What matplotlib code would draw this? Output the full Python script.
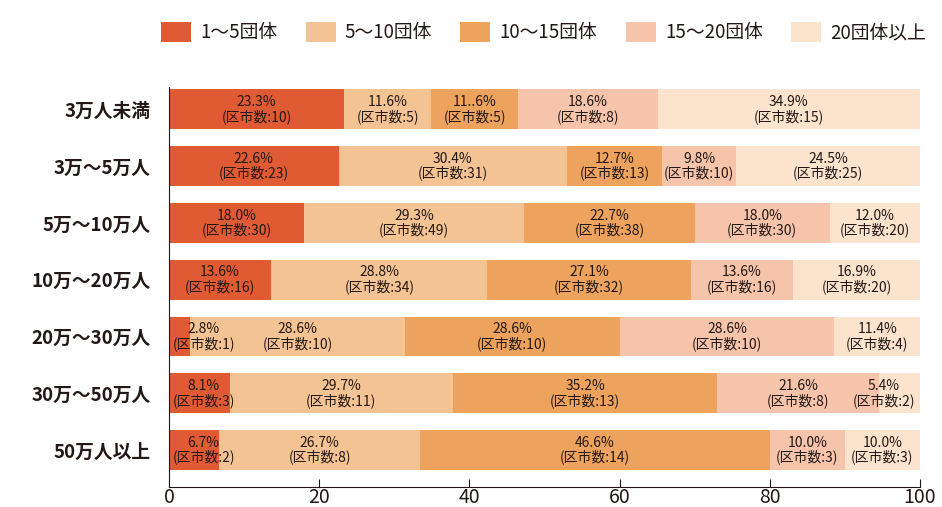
import matplotlib
matplotlib.use('Agg')
import matplotlib.pyplot as plt
import numpy as np

plt.rcParams['font.family'] = ['Noto Sans CJK JP', 'DejaVu Sans']

rows = ['3万人未満', '3万～5万人', '5万～10万人', '10万～20万人',
        '20万～30万人', '30万～50万人', '50万人以上']
groups = ['1～5団体', '5～10団体', '10～15団体', '15～20団体', '20団体以上']
colors = ['#E05A33', '#F4C393', '#EDA35E', '#F5C4AB', '#FBE3CE']

pct = np.array([
    [23.3, 11.6, 11.6, 18.6, 34.9],
    [22.6, 30.4, 12.7, 9.8, 24.5],
    [18.0, 29.3, 22.7, 18.0, 12.0],
    [13.6, 28.8, 27.1, 13.6, 16.9],
    [2.8, 28.6, 28.6, 28.6, 11.4],
    [8.1, 29.7, 35.2, 21.6, 5.4],
    [6.7, 26.7, 46.6, 10.0, 10.0],
])
counts = np.array([
    [10, 5, 5, 8, 15],
    [23, 31, 13, 10, 25],
    [30, 49, 38, 30, 20],
    [16, 34, 32, 16, 20],
    [1, 10, 10, 10, 4],
    [3, 11, 13, 8, 2],
    [2, 8, 14, 3, 3],
])
# label typo as printed in the source chart
pct_text_fix = {(0, 2): '11..6%'}

txt = '#231815'
fig = plt.figure(figsize=(9.42, 5.07), dpi=100)
ax = fig.add_axes([0.1794, 0.0394, 0.7972, 0.7886])

y = np.arange(len(rows))
left = np.zeros(len(rows))
for j in range(len(groups)):
    ax.barh(y, pct[:, j], left=left, height=0.7, color=colors[j], label=groups[j])
    for i in range(len(rows)):
        c = left[i] + pct[i, j] / 2
        c = min(max(c, 4.6), 95.2)
        s = pct_text_fix.get((i, j), f'{pct[i, j]:.1f}%')
        ax.text(c, y[i], s + '\n' + f'(区市数:{counts[i, j]})', ha='center', va='center',
                fontsize=10, color=txt, linespacing=1.0)
    left += pct[:, j]

ax.set_xlim(0, 100)
ax.set_ylim(6.65, -0.39)
ax.set_yticks(y)
ax.set_yticklabels(rows, fontsize=13.5, fontweight='bold', color=txt)
ax.set_xticks([0, 20, 40, 60, 80, 100])
ax.tick_params(axis='x', direction='in', length=6, labelsize=14, colors=txt, pad=0)
ax.tick_params(axis='y', length=0, pad=13)
ax.spines['top'].set_visible(False)
ax.spines['right'].set_visible(False)
ax.spines['left'].set_color(txt)
ax.spines['bottom'].set_color(txt)

fig.legend(loc='upper center', bbox_to_anchor=(0.577, 0.99), ncol=5, frameon=False,
           fontsize=13.5, handlelength=1.6, handleheight=1.3, columnspacing=1.5,
           handletextpad=0.5, labelcolor=txt)

plt.savefig('out.png', dpi=100)
